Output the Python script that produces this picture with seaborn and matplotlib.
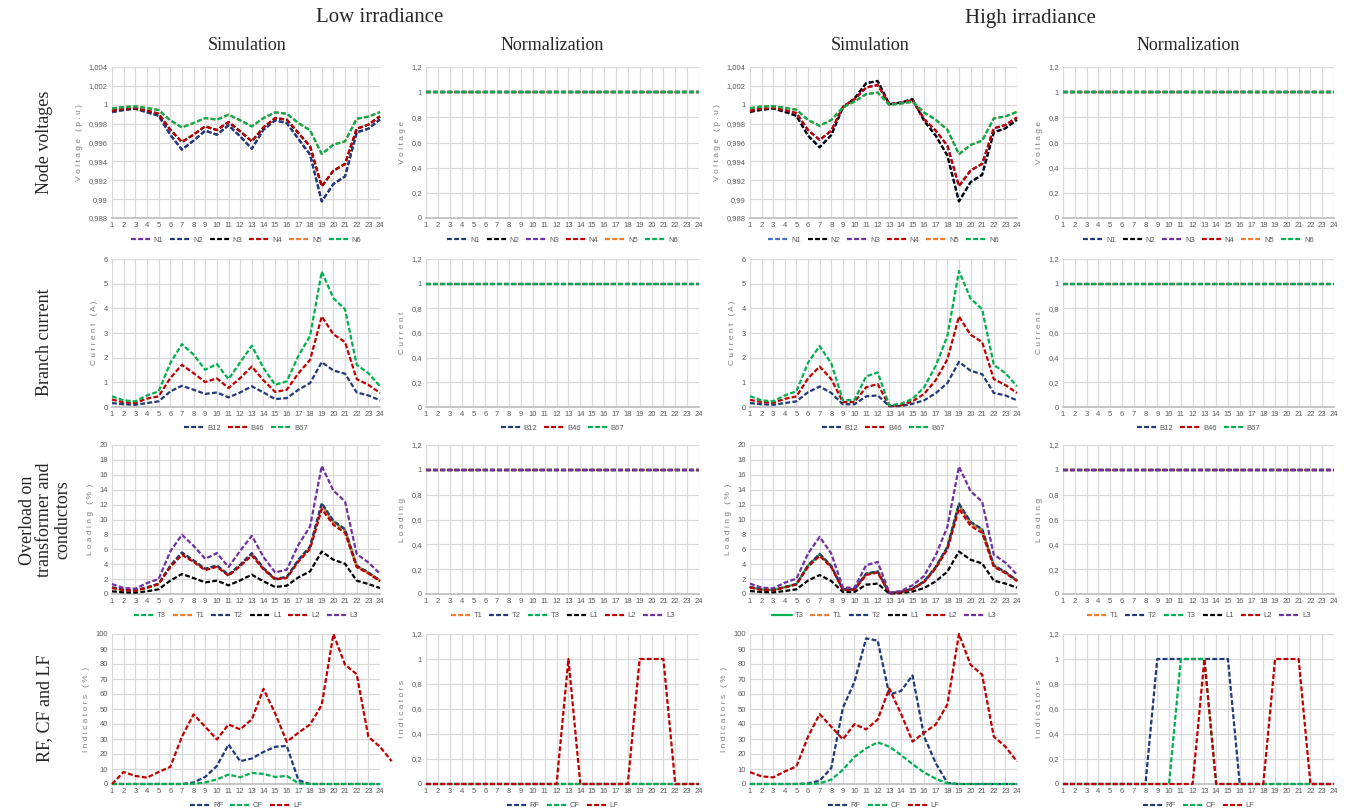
import matplotlib
matplotlib.use("Agg")
import matplotlib.pyplot as plt
import seaborn as sns
from matplotlib.ticker import FuncFormatter

sns.set_theme(style="white")
plt.rcParams['font.family'] = ['Liberation Sans', 'DejaVu Sans']

hours = list(range(1, 25))
ones = [1] * 24
zeros = [0] * 24

# Node voltages (p.u) - low irradiance
v_low_N2 = [0.99923, 0.99944, 0.99958, 0.9992, 0.99884, 0.99683, 0.99524, 0.9962, 0.99725, 0.99683,
            0.99782, 0.99665, 0.99534, 0.99736, 0.99835, 0.99806, 0.99637, 0.99471, 0.98976, 0.9916,
            0.99241, 0.99707, 0.99746, 0.99845]
v_low_N4 = [0.99937, 0.99958, 0.99965, 0.99937, 0.99905, 0.99736, 0.99605, 0.99683, 0.99771, 0.99732,
            0.99817, 0.99718, 0.99612, 0.9976, 0.99859, 0.99842, 0.997, 0.99559, 0.99135, 0.99301,
            0.99372, 0.99746, 0.99789, 0.99877]
v_low_N6 = [0.99962, 0.99976, 0.99983, 0.99965, 0.99944, 0.99835, 0.9976, 0.99806, 0.99859, 0.99842,
            0.99895, 0.99835, 0.99771, 0.99859, 0.99919, 0.99905, 0.99806, 0.99729, 0.99478, 0.99577,
            0.99612, 0.99852, 0.99873, 0.99923]
# Node voltages (p.u) - high irradiance
v_high_N2 = [0.99925, 0.99947, 0.99961, 0.99925, 0.99883, 0.99672, 0.99549, 0.99679, 0.99971, 1.00066,
             1.00228, 1.00252, 1.00006, 1.00024, 1.00059, 0.99831, 0.99672, 0.99462, 0.98976, 0.9918,
             0.99258, 0.99708, 0.9975, 0.99841]
v_high_N4 = [0.99936, 0.99961, 0.99968, 0.99943, 0.99911, 0.99732, 0.99627, 0.99725, 0.99978, 1.00059,
             1.00182, 1.0021, 1.00006, 1.00017, 1.00049, 0.99848, 0.99725, 0.99567, 0.99138, 0.99303,
             0.99374, 0.9975, 0.99785, 0.99866]
v_high_N6 = [0.99964, 0.99982, 0.99985, 0.99968, 0.99947, 0.99838, 0.99778, 0.99838, 0.99971, 1.00034,
             1.00112, 1.00129, 0.99999, 1.00013, 1.00031, 0.99918, 0.99841, 0.99736, 0.99476, 0.99574,
             0.9962, 0.99855, 0.99876, 0.99925]

# Branch current (A)
i_low_B12 = [0.16, 0.11, 0.09, 0.16, 0.23, 0.63, 0.86, 0.7, 0.53, 0.59, 0.39, 0.59, 0.84, 0.59, 0.32,
             0.36, 0.7, 0.97, 1.82, 1.48, 1.35, 0.59, 0.47, 0.27]
i_low_B46 = [0.3, 0.19, 0.16, 0.34, 0.43, 1.17, 1.71, 1.37, 1.01, 1.16, 0.77, 1.17, 1.64, 1.08, 0.61,
             0.7, 1.37, 1.91, 3.67, 2.95, 2.63, 1.13, 0.9, 0.57]
i_low_B67 = [0.43, 0.27, 0.23, 0.47, 0.63, 1.78, 2.55, 2.12, 1.51, 1.74, 1.13, 1.81, 2.48, 1.58, 0.9,
             1.04, 2.08, 2.88, 5.49, 4.41, 3.96, 1.71, 1.37, 0.84]
i_high_B12 = [0.16, 0.11, 0.09, 0.16, 0.23, 0.6, 0.83, 0.57, 0.11, 0.11, 0.43, 0.47, 0.03, 0.04, 0.13,
              0.27, 0.56, 0.97, 1.83, 1.47, 1.33, 0.57, 0.47, 0.27]
i_high_B46 = [0.29, 0.2, 0.17, 0.33, 0.43, 1.16, 1.64, 1.13, 0.2, 0.2, 0.8, 0.93, 0.04, 0.07, 0.23,
              0.53, 1.09, 1.93, 3.67, 2.93, 2.63, 1.13, 0.89, 0.57]
i_high_B67 = [0.44, 0.27, 0.23, 0.47, 0.64, 1.8, 2.47, 1.77, 0.27, 0.29, 1.24, 1.4, 0.07, 0.13, 0.33,
              0.8, 1.67, 2.87, 5.51, 4.4, 3.96, 1.71, 1.37, 0.84]

# Loading (%)
l_low_T3 = [0.87, 0.57, 0.48, 0.87, 1.35, 3.75, 5.52, 4.46, 3.35, 3.8, 2.56, 3.89, 5.43, 3.44, 2.02,
            2.25, 4.55, 6.3, 12.05, 9.7, 8.62, 3.75, 2.87, 1.8]
l_low_T1 = [0.85, 0.55, 0.47, 0.85, 1.33, 3.7, 5.45, 4.4, 3.3, 3.75, 2.52, 3.84, 5.36, 3.4, 2.0,
            2.22, 4.5, 6.22, 11.9, 9.6, 8.5, 3.7, 2.83, 1.78]
l_low_T2 = [0.89, 0.58, 0.49, 0.89, 1.38, 3.79, 5.58, 4.51, 3.39, 3.84, 2.59, 3.93, 5.49, 3.48, 2.05,
            2.28, 4.6, 6.38, 12.19, 9.82, 8.71, 3.79, 2.9, 1.83]
l_low_L1 = [0.36, 0.22, 0.18, 0.36, 0.63, 1.79, 2.68, 2.14, 1.56, 1.79, 1.16, 1.83, 2.59, 1.7, 0.94,
            1.12, 2.23, 3.04, 5.71, 4.6, 4.06, 1.79, 1.34, 0.8]
l_low_L2 = [0.8, 0.52, 0.45, 0.82, 1.3, 3.6, 5.27, 4.3, 3.2, 3.65, 2.45, 3.75, 5.18, 3.3, 1.95,
            2.15, 4.35, 6.05, 11.4, 9.3, 8.2, 3.6, 2.75, 1.72]
l_low_L3 = [1.34, 0.8, 0.71, 1.47, 2.01, 5.71, 7.95, 6.47, 4.73, 5.49, 3.62, 5.8, 7.81, 4.96, 2.9,
            3.26, 6.61, 9.06, 17.19, 13.88, 12.41, 5.36, 4.24, 2.72]
l_high_T3 = [0.92, 0.61, 0.53, 0.92, 1.32, 3.82, 5.33, 3.73, 0.61, 0.61, 2.7, 3.01, 0.12, 0.26, 0.7,
             1.67, 3.58, 6.25, 12.02, 9.6, 8.62, 3.82, 2.92, 1.81]
l_high_T1 = [0.9, 0.6, 0.52, 0.9, 1.3, 3.78, 5.27, 3.7, 0.6, 0.6, 2.66, 2.97, 0.12, 0.25, 0.69,
             1.65, 3.55, 6.2, 11.9, 9.5, 8.55, 3.78, 2.9, 1.8]
l_high_T2 = [0.94, 0.63, 0.54, 0.94, 1.35, 3.86, 5.38, 3.77, 0.63, 0.63, 2.74, 3.05, 0.13, 0.27, 0.72,
             1.7, 3.63, 6.32, 12.15, 9.69, 8.7, 3.86, 2.96, 1.84]
l_high_L1 = [0.4, 0.27, 0.22, 0.4, 0.63, 1.8, 2.55, 1.75, 0.27, 0.27, 1.25, 1.4, 0.05, 0.12, 0.33,
             0.8, 1.7, 3.0, 5.7, 4.6, 4.1, 1.8, 1.4, 0.85]
l_high_L2 = [0.85, 0.56, 0.49, 0.87, 1.28, 3.65, 5.1, 3.6, 0.56, 0.56, 2.55, 2.88, 0.11, 0.24, 0.66,
             1.6, 3.45, 6.0, 11.45, 9.15, 8.2, 3.65, 2.8, 1.74]
l_high_L3 = [1.39, 0.85, 0.76, 1.52, 2.06, 5.43, 7.67, 5.43, 0.85, 0.85, 3.86, 4.3, 0.18, 0.4, 1.17,
             2.42, 5.2, 9.01, 17.09, 13.81, 12.38, 5.29, 4.22, 2.6]

# Indicators (%)
ind_low_RF = [0, 0, 0, 0, 0, 0, 0, 1, 4.7, 12, 26.3, 15.2, 17, 21.4, 24.8, 25.4, 2.5, 0, 0, 0, 0, 0, 0, 0]
ind_low_CF = [0, 0, 0, 0, 0, 0, 0, 0.2, 1, 3.1, 6.3, 4.5, 7.4, 6.7, 4.7, 5.4, 0.5, 0, 0, 0, 0, 0, 0, 0]
lf_low_x = list(range(1, 26))
ind_low_LF = [0, 8, 5.4, 4.2, 8, 11.4, 31.5, 46.4, 38.2, 29.7, 39.7, 36.4, 43.1, 63.4, 47.1, 28.1,
              34.2, 39.7, 52.7, 100, 79.5, 73.2, 31.5, 24.8, 15.2]
ind_high_RF = [0, 0, 0, 0, 0, 0.4, 2.2, 10.6, 50.8, 68, 97.1, 95.6, 59.6, 62, 72.4, 31.6, 13.9, 0.7,
               0, 0, 0, 0, 0, 0]
ind_high_CF = [0, 0, 0, 0, 0, 0, 0.4, 2.9, 9.5, 18.1, 23.8, 27.8, 24.9, 19.4, 13.2, 7.7, 3.5, 0.4,
               0, 0, 0, 0, 0, 0]
ind_high_LF = [7.9, 5.1, 4.4, 8.4, 11.7, 31.6, 46.6, 38.2, 29.8, 39.9, 36.4, 43, 63.6, 47, 28.3, 34.2,
               39.7, 53, 100, 79.5, 72.8, 31.6, 24.9, 15]

norm_low_LF = [0, 0, 0, 0, 0, 0, 0, 0, 0, 0, 0, 0, 1, 0, 0, 0, 0, 0, 1, 1, 1, 0, 0, 0]
norm_high_RF = [0, 0, 0, 0, 0, 0, 0, 0, 1, 1, 1, 1, 1, 1, 1, 0, 0, 0, 0, 0, 0, 0, 0, 0]
norm_high_CF = [0, 0, 0, 0, 0, 0, 0, 0, 0, 0, 1, 1, 1, 0, 0, 0, 0, 0, 0, 0, 0, 0, 0, 0]
norm_high_LF = [0, 0, 0, 0, 0, 0, 0, 0, 0, 0, 0, 0, 1, 0, 0, 0, 0, 0, 1, 1, 1, 0, 0, 0]

NAVY = '#1f3a78'
BLACK = '#000000'
PURPLE = '#7030a0'
RED = '#c00000'
ORANGE = '#ed7d31'
GREEN = '#00b050'
BLUE = '#4472c4'
DASH = (0, (2.2, 1.0))

fig = plt.figure(figsize=(13.45, 8.1), dpi=100)
W, H = 1345, 810

col_left = [112, 426, 750, 1063]
col_width = [268, 273, 267, 271]
row_top = [67, 259, 445, 634]
row_bot = [218, 407, 594, 784]


def fmt(v, pos):
    return f"{round(v, 4):g}".replace('.', ',')


def panel(r, c, series, ylim, step, ylabel):
    ax = fig.add_axes([col_left[c] / W, 1 - row_bot[r] / H,
                       col_width[c] / W, (row_bot[r] - row_top[r]) / H])
    for item in series:
        x, y, name, color = item[:4]
        ls = item[4] if len(item) > 4 else DASH
        sns.lineplot(x=x, y=y, ax=ax, color=color, linestyle=ls, linewidth=1.6,
                     label=name, clip_on=False, zorder=3)
    ax.set_xlim(1, 24)
    ax.set_ylim(*ylim)
    ax.set_xticks(hours)
    n = round((ylim[1] - ylim[0]) / step)
    ax.set_yticks([ylim[0] + k * step for k in range(n + 1)])
    ax.yaxis.set_major_formatter(FuncFormatter(fmt))
    ax.grid(True, color='#d9d9d9', linewidth=0.9)
    ax.set_axisbelow(True)
    for s in ['top', 'right', 'left']:
        ax.spines[s].set_visible(False)
    ax.spines['bottom'].set_color('#bfbfbf')
    ax.spines['bottom'].set_zorder(1)
    ax.tick_params(axis='both', length=0, labelsize=5.5, labelcolor='#595959', pad=3)
    ax.set_xlabel('')
    ax.set_ylabel(ylabel, fontsize=6, color='#7f7f7f', labelpad=4)
    ax.legend(loc='center', bbox_to_anchor=(0.5, -0.145), ncol=len(series), frameon=False,
              fontsize=5.5, handlelength=2.7, columnspacing=0.9, handletextpad=0.3,
              labelcolor='#595959')
    return ax


# Row 1: node voltages
panel(0, 0, [(hours, v_low_N2, 'N1', PURPLE), (hours, v_low_N2, 'N2', NAVY),
             (hours, v_low_N4, 'N3', BLACK), (hours, v_low_N4, 'N4', RED),
             (hours, v_low_N6, 'N5', ORANGE), (hours, v_low_N6, 'N6', GREEN)],
      (0.988, 1.004), 0.002, 'V o l t a g e   ( p . u )')
panel(0, 1, [(hours, ones, 'N1', NAVY), (hours, ones, 'N2', BLACK), (hours, ones, 'N3', PURPLE),
             (hours, ones, 'N4', RED), (hours, ones, 'N5', ORANGE), (hours, ones, 'N6', GREEN)],
      (0, 1.2), 0.2, 'V o l t a g e')
panel(0, 2, [(hours, v_high_N2, 'N1', BLUE), (hours, v_high_N2, 'N2', BLACK),
             (hours, v_high_N4, 'N3', PURPLE), (hours, v_high_N4, 'N4', RED),
             (hours, v_high_N6, 'N5', ORANGE), (hours, v_high_N6, 'N6', GREEN)],
      (0.988, 1.004), 0.002, 'V o l t a g e   ( p . u )')
panel(0, 3, [(hours, ones, 'N1', NAVY), (hours, ones, 'N2', BLACK), (hours, ones, 'N3', PURPLE),
             (hours, ones, 'N4', RED), (hours, ones, 'N5', ORANGE), (hours, ones, 'N6', GREEN)],
      (0, 1.2), 0.2, 'V o l t a g e')

# Row 2: branch current
panel(1, 0, [(hours, i_low_B12, 'B12', NAVY), (hours, i_low_B46, 'B46', RED),
             (hours, i_low_B67, 'B67', GREEN)], (0, 6), 1, 'C u r r e n t   ( A )')
panel(1, 1, [(hours, ones, 'B12', NAVY), (hours, ones, 'B46', RED), (hours, ones, 'B67', GREEN)],
      (0, 1.2), 0.2, 'C u r r e n t')
panel(1, 2, [(hours, i_high_B12, 'B12', NAVY), (hours, i_high_B46, 'B46', RED),
             (hours, i_high_B67, 'B67', GREEN)], (0, 6), 1, 'C u r r e n t   ( A )')
panel(1, 3, [(hours, ones, 'B12', NAVY), (hours, ones, 'B46', RED), (hours, ones, 'B67', GREEN)],
      (0, 1.2), 0.2, 'C u r r e n t')

# Row 3: loading
panel(2, 0, [(hours, l_low_T3, 'T3', GREEN), (hours, l_low_T1, 'T1', ORANGE),
             (hours, l_low_T2, 'T2', NAVY), (hours, l_low_L1, 'L1', BLACK),
             (hours, l_low_L2, 'L2', RED), (hours, l_low_L3, 'L3', PURPLE)],
      (0, 20), 2, 'L o a d i n g   ( %  )')
panel(2, 1, [(hours, ones, 'T1', ORANGE), (hours, ones, 'T2', NAVY), (hours, ones, 'T3', GREEN),
             (hours, ones, 'L1', BLACK), (hours, ones, 'L2', RED), (hours, ones, 'L3', PURPLE)],
      (0, 1.2), 0.2, 'L o a d i n g')
panel(2, 2, [(hours, l_high_T3, 'T3', GREEN, '-'), (hours, l_high_T1, 'T1', ORANGE),
             (hours, l_high_T2, 'T2', NAVY), (hours, l_high_L1, 'L1', BLACK),
             (hours, l_high_L2, 'L2', RED), (hours, l_high_L3, 'L3', PURPLE)],
      (0, 20), 2, 'L o a d i n g   ( %  )')
panel(2, 3, [(hours, ones, 'T1', ORANGE), (hours, ones, 'T2', NAVY), (hours, ones, 'T3', GREEN),
             (hours, ones, 'L1', BLACK), (hours, ones, 'L2', RED), (hours, ones, 'L3', PURPLE)],
      (0, 1.2), 0.2, 'L o a d i n g')

# Row 4: indicators
panel(3, 0, [(hours, ind_low_RF, 'RF', NAVY), (hours, ind_low_CF, 'CF', GREEN),
             (lf_low_x, ind_low_LF, 'LF', RED)], (0, 100), 10, 'I n d i c a t o r s   ( %  )')
panel(3, 1, [(hours, zeros, 'RF', NAVY), (hours, zeros, 'CF', GREEN),
             (hours, norm_low_LF, 'LF', RED)], (0, 1.2), 0.2, 'I n d i c a t o r s')
panel(3, 2, [(hours, ind_high_RF, 'RF', NAVY), (hours, ind_high_CF, 'CF', GREEN),
             (hours, ind_high_LF, 'LF', RED)], (0, 100), 10, 'I n d i c a t o r s   ( %  )')
panel(3, 3, [(hours, norm_high_RF, 'RF', NAVY), (hours, norm_high_CF, 'CF', GREEN),
             (hours, norm_high_LF, 'LF', RED)], (0, 1.2), 0.2, 'I n d i c a t o r s')

serif = ['Liberation Serif', 'DejaVu Serif']
fig.text(380 / W, 1 - 18 / H, 'Low irradiance', ha='center', va='center', fontsize=15, family=serif)
fig.text(1030 / W, 1 - 18 / H, 'High irradiance', ha='center', va='center', fontsize=15, family=serif)
for x, t in [(247, 'Simulation'), (552, 'Normalization'), (870, 'Simulation'), (1188, 'Normalization')]:
    fig.text(x / W, 1 - 45 / H, t, ha='center', va='center', fontsize=13, family=serif)

for y, t in [(142, 'Node voltages'), (342, 'Branch current'),
             (520, 'Overload on\ntransformer and\nconductors'), (708, 'RF, CF and LF')]:
    fig.text(45 / W, 1 - y / H, t, ha='center', va='center', rotation=90, fontsize=13,
             family=serif, linespacing=1.05)

fig.savefig('out.png', dpi=100)
